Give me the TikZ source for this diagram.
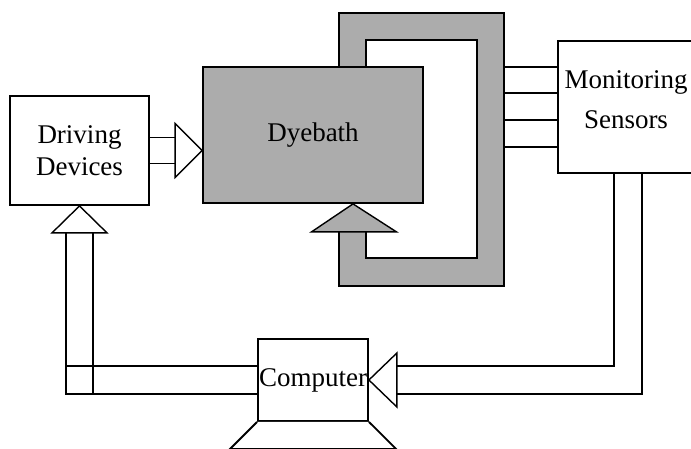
\documentclass[tikz,border=0pt]{standalone}
\usepackage{fontspec}
\setmainfont{Liberation Serif}
\usepackage{tikz}
\usetikzlibrary{calc}
\definecolor{bathgray}{RGB}{172,172,172}

\begin{document}
\begin{tikzpicture}[x=1pt,y=-1pt,
    box/.style={draw,line width=1.8pt,fill=white,inner sep=0pt,
                font=\fontsize{27}{32}\selectfont,align=center},
    wire/.style={line width=1.4pt},
    tip/.style={draw,line width=1.4pt,fill=white,line join=miter},
    pipe/.style={draw,line width=1.8pt,fill=bathgray},
  ]
  \useasboundingbox (0,0) rectangle (691,449);
  \clip (0,0) rectangle (691,449);
  % circulation loop round the bath
  \draw[pipe] (339,67) -- (339,13) -- (504,13) -- (504,286) -- (339,286)
    -- (339,231) -- (366,231) -- (366,258) -- (477,258) -- (477,40)
    -- (366,40) -- (366,67) -- cycle;
  \coordinate (loopE) at (504,0);
  \node[box,minimum width=139pt,minimum height=109pt](drive) at (79.5,150.5){Driving\\Devices};
  \node[box,fill=bathgray,minimum width=220pt,minimum height=136pt](dye) at (313,135){Dyebath};
  \node[box,font=\fontsize{27}{40}\selectfont,minimum width=136pt,
        text height=88pt,text depth=44pt](sens) at (626,107){Monitoring\\Sensors};
  \node[box,minimum width=110pt,minimum height=82pt](comp) at (313,380){Computer};
  \draw[box] (comp.south west) -- ++(-27,27) -- ++(166,0) -- (comp.south east);
  % loop back into the bath
  \coordinate (loopTip) at (dye.south -| 353,0);
  \draw[tip,fill=bathgray] (loopTip) -- ++(43.5,28) -- ++(-85,0) -- cycle;
  % driving devices -> dyebath
  \coordinate (dd) at (dye.west |- drive.center);
  \coordinate (ddBase) at ([xshift=-27pt]dd);
  \draw[wire] ([yshift=13pt]drive.east) -- ([yshift=13pt]ddBase);
  \draw[wire] ([yshift=-13pt]drive.east) -- ([yshift=-13pt]ddBase);
  \draw[tip] (dd) -- ++(-27,-27) -- ++(0,54) -- cycle;
  % sensors on the loop
  \foreach \y in {67,93,120,147}
    \draw[wire] (loopE |- 0,\y) -- (sens.west |- 0,\y);
  % sensors -> computer
  \coordinate (sc) at (comp.east);
  \coordinate (scBase) at ([xshift=28pt]sc);
  \draw[wire] ([xshift=-12pt]sens.south) |- ([yshift=14pt]scBase);
  \draw[wire] ([xshift=16pt]sens.south) |- ([yshift=-14pt]scBase);
  \draw[tip] (sc) -- ++(28,-27) -- ++(0,54) -- cycle;
  % computer -> driving devices
  \coordinate (cd) at (drive.south);
  \coordinate (cdBase) at ([yshift=-27pt]cd);
  \coordinate (cdL) at ([xshift=-13.5pt]cdBase);
  \coordinate (cdR) at ([xshift=13.5pt]cdBase);
  \coordinate (cwHi) at ([yshift=14pt]comp.west);
  \coordinate (cwLo) at ([yshift=-14pt]comp.west);
  \draw[wire] (cwLo) -| (cdL);
  \draw[wire] (cwHi) -- (cwHi -| cdL);
  \draw[wire] (cdR) -- (cdR |- cwLo);
  \draw[tip] (cd) -- ++(27.5,27) -- ++(-55,0) -- cycle;
\end{tikzpicture}
\end{document}
